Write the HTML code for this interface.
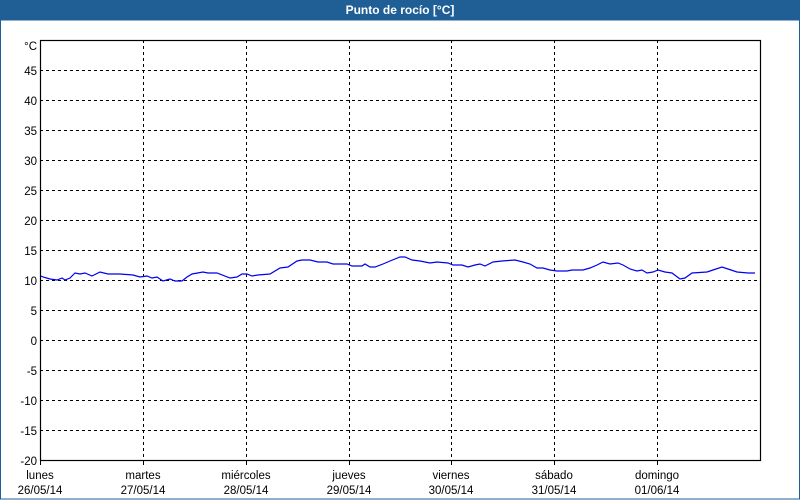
<!DOCTYPE html>
<html><head><meta charset="utf-8"><style>
html,body{margin:0;padding:0;background:#fff}
body{width:800px;height:500px;overflow:hidden;position:relative;font-family:"Liberation Sans",sans-serif}
</style></head><body>
<svg width="800" height="500" xmlns="http://www.w3.org/2000/svg" style="position:absolute;left:0;top:0">
<rect x="0" y="0" width="800" height="500" fill="#fff"/>
<rect x="0" y="0" width="800" height="20" fill="#1f5f96"/>
<rect x="0.5" y="20" width="799" height="479" fill="none" stroke="#1f5f96" stroke-width="1"/>
<text x="400" y="14" fill="#fff" font-size="12" font-weight="bold" text-anchor="middle" font-family="Liberation Sans, sans-serif">Punto de rocío [°C]</text>
<g stroke="#000" stroke-width="1" stroke-dasharray="3,3" fill="none">
<path d="M40 70.5H760M40 100.5H760M40 130.5H760M40 160.5H760M40 190.5H760M40 220.5H760M40 250.5H760M40 280.5H760M40 310.5H760M40 340.5H760M40 370.5H760M40 400.5H760M40 430.5H760"/>
<path d="M143.5 40V460M246.5 40V460M349.5 40V460M451.5 40V460M554.5 40V460M657.5 40V460"/>
</g>
<rect x="40.5" y="40.5" width="720" height="420" fill="none" stroke="#000" stroke-width="1.2"/>
<g stroke="#000"><path d="M40.5 460v5M143.5 460v5M246.5 460v5M349.5 460v5M451.5 460v5M554.5 460v5M657.5 460v5"/></g>
<g font-size="11.5" fill="#000" text-anchor="end" font-family="Liberation Sans, sans-serif">
<text x="37" y="50">°C</text>
<text x="37" y="75">45</text><text x="37" y="105">40</text><text x="37" y="135">35</text><text x="37" y="165">30</text><text x="37" y="195">25</text><text x="37" y="225">20</text><text x="37" y="255">15</text><text x="37" y="285">10</text><text x="37" y="315">5</text><text x="37" y="345">0</text><text x="37" y="375">-5</text><text x="37" y="405">-10</text><text x="37" y="435">-15</text><text x="37" y="465">-20</text>
</g>
<g font-size="11.5" fill="#000" text-anchor="middle" font-family="Liberation Sans, sans-serif">
<text x="40" y="479">lunes</text><text x="40" y="494">26/05/14</text>
<text x="143" y="479">martes</text><text x="143" y="494">27/05/14</text>
<text x="246" y="479">miércoles</text><text x="246" y="494">28/05/14</text>
<text x="349" y="479">jueves</text><text x="349" y="494">29/05/14</text>
<text x="451" y="479">viernes</text><text x="451" y="494">30/05/14</text>
<text x="554" y="479">sábado</text><text x="554" y="494">31/05/14</text>
<text x="657" y="479">domingo</text><text x="657" y="494">01/06/14</text>
</g>
<polyline fill="none" stroke="#0000ee" stroke-width="1.2" points="41,276 43,277 50,279 57,280 62,278 65,280 70,278 75,273 80,274 85,273 92,276 100,272 108,274 120,274 133,275 140,277 147,276 152,278 157,277 163,281 170,279 175,281 182,281 187,277 192,274 203,272 208,273 217,273 230,278 237,277 242,274 247,274 252,276 258,275 270,274 280,268 288,267 297,261 302,260 310,260 318,262 327,262 333,264 347,264 352,266 362,266 365,264 370,267 375,267 383,264 390,261 400,257 405,257 412,260 420,261 430,263 437,262 448,263 453,265 462,265 468,267 475,265 480,264 485,266 493,262 502,261 515,260 523,262 530,264 537,268 543,268 550,270 557,271 567,271 572,270 583,270 590,268 597,265 603,262 610,264 618,263 623,265 630,269 637,271 642,270 647,273 653,272 658,270 665,272 672,273 680,279 685,278 692,273 707,272 713,270 722,267 728,269 737,272 748,273 755,273"/>
</svg>
</body></html>
